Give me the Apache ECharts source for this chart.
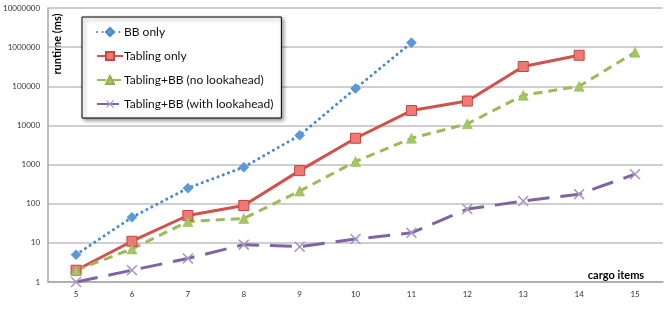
<!DOCTYPE html>
<html>
<head>
<meta charset="utf-8">
<script src="https://cdn.jsdelivr.net/npm/echarts@6/dist/echarts.min.js"></script>
<style>
html, body { margin: 0; padding: 0; background: #fff; }
#chart { width: 664px; height: 320px; }
</style>
</head>
<body>
<div id="chart"></div>
<script>
var cargoItems = ['5', '6', '7', '8', '9', '10', '11', '12', '13', '14', '15'];
var bbOnly = [5, 45, 250, 860, 5600, 88000, 1300000, null, null, null, null];
var tablingOnly = [2, 11, 50, 90, 700, 4700, 24000, 42000, 320000, 620000, null];
var tablingBBNoLook = [2, 7, 35, 42, 210, 1200, 4700, 11000, 59000, 100000, 740000];
var tablingBBLook = [1, 2, 4, 9, 8, 12.5, 18, 73, 117, 175, 570];

var chart = echarts.init(document.getElementById('chart'));
var font = 'Lato, "Open Sans", sans-serif';
var crossPath = 'path://M0,1 L1,0 L5,4 L9,0 L10,1 L6,5 L10,9 L9,10 L5,6 L1,10 L0,9 L4,5 Z';

var option = {
	animation: false,
	textStyle: { fontFamily: font },
	grid: { left: 45, right: 1, top: 8, bottom: 38 },
	legend: {
		orient: 'vertical',
		left: 82,
		top: 17,
		padding: [9, 8, 8, 14],
		itemGap: 12,
		itemWidth: 26,
		itemHeight: 10,
		backgroundColor: '#fff',
		borderColor: '#000',
		borderWidth: 1,
		shadowColor: 'rgba(0,0,0,0.45)',
		shadowBlur: 4,
		shadowOffsetX: 2,
		shadowOffsetY: 2,
		textStyle: { fontSize: 12, color: '#111', fontFamily: font, padding: [0, 0, 0, -4] },
		data: ['BB only', 'Tabling only', 'Tabling+BB (no lookahead)', 'Tabling+BB (with lookahead)']
	},
	xAxis: {
		type: 'category',
		data: cargoItems,
		boundaryGap: true,
		axisLine: { lineStyle: { color: '#a6a6a6', width: 1.5 } },
		axisTick: { show: false },
		axisLabel: { fontSize: 8, color: '#333', margin: 8 }
	},
	yAxis: {
		type: 'log',
		logBase: 10,
		min: 1,
		max: 10000000,
		axisLine: { show: true, lineStyle: { color: '#a6a6a6', width: 1.5 } },
		axisTick: { show: false },
		minorTick: { show: false },
		splitLine: { lineStyle: { color: '#bfbfbf', width: 1.5 } },
		axisLabel: {
			fontSize: 8,
			color: '#333',
			margin: 8,
			formatter: function (v) { return String(Math.round(v)); }
		}
	},
	graphic: [
		{
			type: 'text',
			x: 57,
			y: 44,
			rotation: Math.PI / 2,
			style: {
				text: 'runtime (ms)',
				font: 'bold 11px ' + font,
				fill: '#000',
				align: 'center',
				verticalAlign: 'middle'
			}
		},
		{
			type: 'text',
			x: 616,
			y: 275,
			style: {
				text: 'cargo items',
				font: 'bold 11px ' + font,
				fill: '#000',
				align: 'center',
				verticalAlign: 'middle'
			}
		}
	],
	series: [
		{
			name: 'BB only',
			type: 'line',
			data: bbOnly,
			symbol: 'diamond',
			symbolSize: 10,
			itemStyle: { color: '#5b9bd5', borderColor: '#4a86c5', borderWidth: 0.5 },
			lineStyle: { color: '#4a88cf', width: 3, type: [0.1, 5.5], cap: 'round' }
		},
		{
			name: 'Tabling only',
			type: 'line',
			data: tablingOnly,
			symbol: 'rect',
			symbolSize: 10,
			itemStyle: { color: '#ec7a76', borderColor: '#c9453f', borderWidth: 1 },
			lineStyle: { color: '#d4504b', width: 3 }
		},
		{
			name: 'Tabling+BB (no lookahead)',
			type: 'line',
			data: tablingBBNoLook,
			symbol: 'triangle',
			symbolSize: 10,
			itemStyle: { color: '#a5c663', borderColor: '#8fb04c', borderWidth: 0.5 },
			lineStyle: { color: '#9bbb59', width: 3, type: [9, 6] }
		},
		{
			name: 'Tabling+BB (with lookahead)',
			type: 'line',
			data: tablingBBLook,
			symbol: crossPath,
			symbolSize: 11,
			itemStyle: { color: '#a898c4', borderWidth: 0 },
			lineStyle: { color: '#8064a2', width: 3, type: [22, 11] }
		}
	]
};
chart.setOption(option);
</script>
</body>
</html>
